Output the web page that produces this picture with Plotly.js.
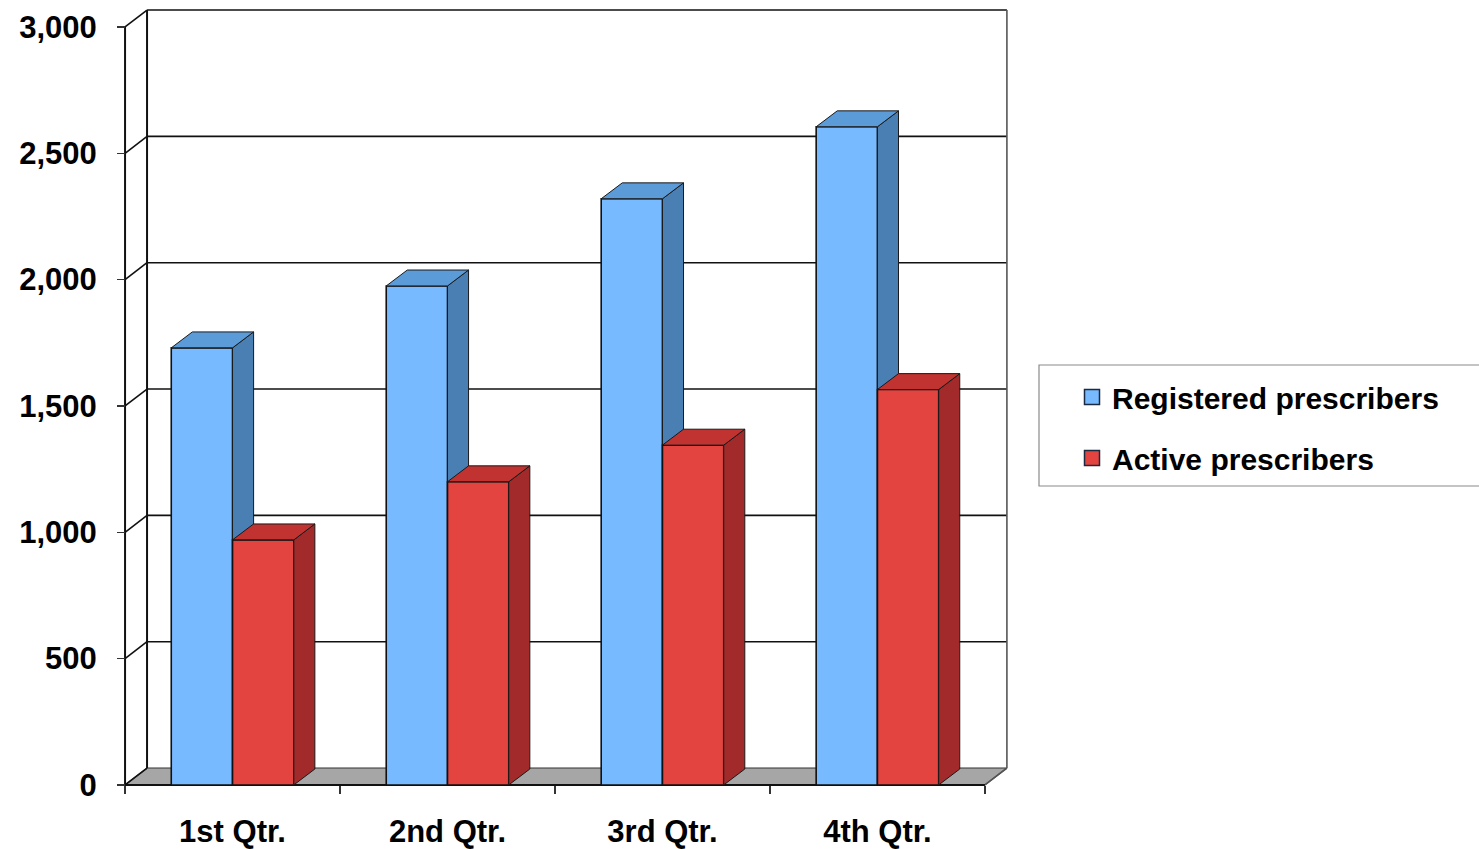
<!DOCTYPE html>
<html>
<head>
<meta charset="utf-8">
<script src="https://cdn.plot.ly/plotly-3.0.1.min.js"></script>
<style>html,body{margin:0;padding:0;background:#fff;}#chart{width:1479px;height:849px;}</style>
</head>
<body>
<div id="chart"></div>
<script>
// ---- data ----
var categories = ["1st Qtr.", "2nd Qtr.", "3rd Qtr.", "4th Qtr."];
var seriesNames = ["Registered prescribers", "Active prescribers"];
var registered = [1730, 1975, 2320, 2605];
var active = [970, 1200, 1345, 1565];
var yTickVals = [0, 500, 1000, 1500, 2000, 2500, 3000];
var yTickText = ["0", "500", "1,000", "1,500", "2,000", "2,500", "3,000"];

// ---- style / geometry constants ----
var FONT = "Liberation Sans, Arial, sans-serif";
var blue = {front: "#77baff", top: "#5b9bd8", side: "#4a7fb4"};
var red = {front: "#e3443f", top: "#c13330", side: "#a32a2a"};
var barW = 0.285;          // category units
var wallDX = 0.1023, wallDY = 67;   // depth of walls (x units, y units)
var barDX = 0.098, barDY = 63;      // depth of bars
var yTop = 3000;
var nCat = categories.length;
var xr = [-0.57, 3.626];
var yr = [-20, 3083];

function poly(pts) { var xs = [], ys = []; pts.forEach(function (p) { xs.push(p[0]); ys.push(p[1]); }); xs.push(pts[0][0]); ys.push(pts[0][1]); return [xs, ys]; }
function joinPolys(list) { var xs = [], ys = []; list.forEach(function (pl, k) { if (k) { xs.push(null); ys.push(null); } xs = xs.concat(pl[0]); ys = ys.concat(pl[1]); }); return {x: xs, y: ys}; }

var traces = [];
function addFill(d, fill, lineColor, lineW) {
  traces.push({type: "scatter", mode: "lines", x: d.x, y: d.y, fill: "toself", fillcolor: fill,
    line: {color: lineColor, width: lineW}, hoverinfo: "skip", showlegend: false});
}
function addLine(d, color, width, dash) {
  traces.push({type: "scatter", mode: "lines", x: d.x, y: d.y, line: {color: color, width: width, dash: dash || "solid"},
    hoverinfo: "skip", showlegend: false});
}

var xL = -0.5, xR = nCat - 0.5;
// floor
addFill(joinPolys([poly([[xL, 0], [xL + wallDX, wallDY], [xR + wallDX, wallDY], [xR, 0]])]), "#a6a6a6", "#333333", 1.2);
// back wall gridlines + side-wall diagonals
var gx = [], gy = [];
yTickVals.forEach(function (v) {
  if (v > 0) { gx.push(xL + wallDX, xR + wallDX, null); gy.push(v + wallDY, v + wallDY, null); }
  gx.push(xL, xL + wallDX, null); gy.push(v, v + wallDY, null);
});
addLine({x: gx, y: gy}, "#111111", 1.6);
// wall edges
addLine({x: [xL + wallDX, xL + wallDX], y: [wallDY, yTop + wallDY]}, "#111111", 2);
addLine({x: [xR + wallDX, xR + wallDX, null, xR, xR + wallDX], y: [wallDY, yTop + wallDY, null, 0, wallDY]}, "#555555", 1.6);
// front axis line and floor front edge
addLine({x: [xL, xL], y: [0, yTop]}, "#111111", 2);
addLine({x: [xL, xR], y: [0, 0]}, "#111111", 2);

function barFaces(vals, offset, col) {
  var fr = [], sd = [], tp = [];
  vals.forEach(function (v, i) {
    var x0 = i + offset, x1 = x0 + barW;
    fr.push(poly([[x0, 0], [x0, v], [x1, v], [x1, 0]]));
    sd.push(poly([[x1, 0], [x1, v], [x1 + barDX, v + barDY], [x1 + barDX, barDY]]));
    tp.push(poly([[x0, v], [x1, v], [x1 + barDX, v + barDY], [x0 + barDX, v + barDY]]));
  });
  addFill(joinPolys(fr), col.front, "#111111", 1.6);
  addFill(joinPolys(sd), col.side, "#1a1a1a", 1);
  addFill(joinPolys(tp), col.top, "#1a1a1a", 1);
}
barFaces(registered, -barW, blue);
barFaces(active, 0, red);

// legend entries
[[seriesNames[0], blue.front], [seriesNames[1], red.front]].forEach(function (s, k) {
  traces.push({type: "scatter", mode: "markers", x: [null], y: [null], name: s[0], legendgroup: "g" + k,
    marker: {symbol: "square", size: 15, color: s[1], line: {color: "#1a2a40", width: 1.5}}, hoverinfo: "skip"});
});
// tick-mark-only axis trace anchor
traces.push({type: "scatter", mode: "lines", x: [null], y: [null], xaxis: "x2", yaxis: "y", showlegend: false, hoverinfo: "skip"});

var L = 110, T = 6, B = 59, W = 1479, H = 849;
var pw = W - L - (W - 1012), ph = H - T - B;
function px(p) { return (p - L) / pw; }
function py(p) { return (H - B - p) / ph; }

var layout = {
  width: W, height: H,
  margin: {l: L, r: W - 1012, t: T, b: B, pad: 0},
  paper_bgcolor: "#ffffff", plot_bgcolor: "rgba(0,0,0,0)",
  showlegend: true,
  font: {family: FONT, color: "#000"},
  xaxis: {range: xr, anchor: "free", position: py(785), tickvals: [0, 1, 2, 3], ticktext: categories,
    ticks: "", showgrid: false, zeroline: false, showline: false, ticklabelstandoff: 25,
    tickfont: {family: FONT, size: 31, weight: "bold", color: "#000"}, fixedrange: true},
  xaxis2: {range: xr, overlaying: "x", anchor: "free", position: py(785), side: "bottom",
    tickvals: [-0.5, 0.5, 1.5, 2.5, 3.5], ticks: "outside", ticklen: 8, tickwidth: 1.5, tickcolor: "#333",
    showticklabels: false, showgrid: false, zeroline: false, showline: false},
  yaxis: {range: yr, anchor: "free", position: px(125), tickvals: yTickVals, ticktext: yTickText,
    ticks: "outside", ticklen: 8, tickwidth: 1.5, tickcolor: "#333", showgrid: false, zeroline: false, showline: false,
    ticklabelstandoff: 14, tickfont: {family: FONT, size: 31, weight: "bold", color: "#000"}, fixedrange: true},
  legend: {x: px(1039), y: py(371), xanchor: "left", yanchor: "top", bgcolor: "rgba(0,0,0,0)", borderwidth: 0,
    indentation: 33, tracegroupgap: 19, traceorder: "grouped",
    font: {family: FONT, size: 30, weight: "bold", color: "#000"}},
  shapes: [{type: "rect", xref: "paper", yref: "paper", x0: px(1039), x1: px(1490), y0: py(365), y1: py(486),
    line: {color: "#8a8a8a", width: 1.2}, fillcolor: "rgba(0,0,0,0)"}]
};

Plotly.newPlot("chart", traces, layout, {staticPlot: true, displayModeBar: false});
</script>
</body>
</html>
